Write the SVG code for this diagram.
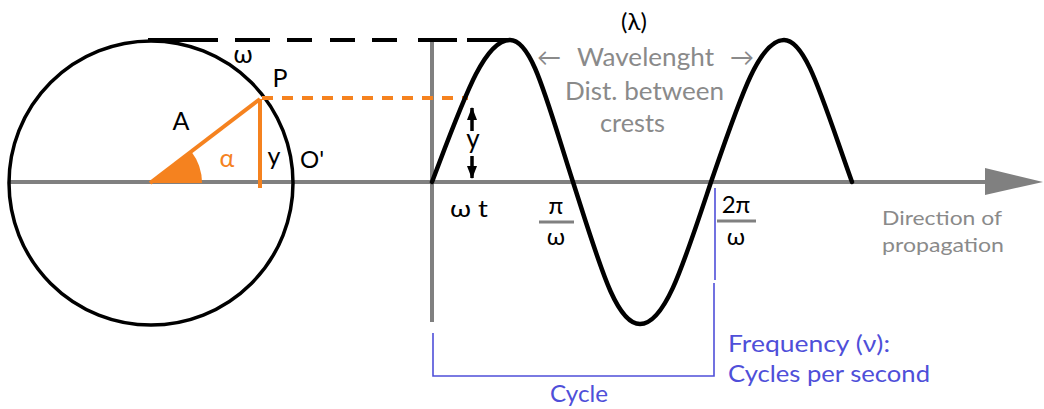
<svg xmlns="http://www.w3.org/2000/svg" width="1044" height="409" viewBox="0 0 1044 409">
<style>
.t{font-family:Lato,"Liberation Sans",sans-serif;}
.blk{fill:#000;}
.gry{fill:#8a8a8a;}
.blu{fill:#4f4fd9;}
.org{fill:#f5821f;}
.ax{stroke:#808080;stroke-width:4;fill:none;}
.bl{stroke:#4f4fd9;stroke-width:1.6;fill:none;}
</style>
<defs>
<marker id="ah" markerWidth="14" markerHeight="10" refX="12" refY="5" orient="auto" markerUnits="userSpaceOnUse">
<path d="M0,0 L13,5 L0,10 Z" fill="#000"/>
</marker>
</defs>
<rect width="1044" height="409" fill="#fff"/>

<g id="axes">
<line class="ax" x1="10" y1="182" x2="988" y2="182"/>
<polygon points="985,168 1043,182 985,195" fill="#808080"/>
<line class="ax" x1="432" y1="40" x2="432" y2="322"/>
</g>

<g id="circle">
<circle cx="151" cy="183" r="142" fill="none" stroke="#000" stroke-width="3.5"/>
</g>

<g id="phasor">
<path d="M150,183 L202,183 A52,52 0 0,0 191.3,151.4 Z" fill="#f5821f"/>
<line x1="150" y1="183" x2="260" y2="99" stroke="#f5821f" stroke-width="4"/>
<line x1="260" y1="99" x2="260" y2="188" stroke="#f5821f" stroke-width="4"/>
</g>

<g id="connectors">
<path d="M148,40 H218 M235,40 H270 M287,40 H312 M330,40 H355 M372,40 H397 M418,40 H457 M467,40 H510" stroke="#000" stroke-width="4" fill="none"/>
<line x1="262" y1="98" x2="468" y2="98" stroke="#f5821f" stroke-width="4" stroke-dasharray="11 9"/>
<line x1="472" y1="131" x2="472" y2="108" stroke="#000" stroke-width="3.5" marker-end="url(#ah)"/>
<line x1="472" y1="156" x2="472" y2="178" stroke="#000" stroke-width="3.5" marker-end="url(#ah)"/>
<line x1="539" y1="222" x2="574" y2="222" stroke="#808080" stroke-width="3"/>
<line x1="717" y1="221" x2="756" y2="221" stroke="#808080" stroke-width="3"/>
<path class="bl" d="M715,188 V280 M714,283 V376 H433 V333"/>
</g>

<g id="wave">
<path d="M432,182 C464,98 484,40 510,40 C532,40 546,98 573,182 C600,266 616,324 640,324 C665,324 683,266 711,182 C740,98 759,40 784,40 C806,40 822,98 852,182" fill="none" stroke="#000" stroke-width="4.5" stroke-linecap="round" stroke-linejoin="round"/>
</g>

<g id="labels-circle">
<text class="t blk" x="243" y="63" font-size="25" text-anchor="middle">ω</text>
<text class="t blk" x="280" y="87" font-size="25" text-anchor="middle">P</text>
<text class="t blk" x="181" y="130" font-size="25" text-anchor="middle">A</text>
<text class="t org" x="227" y="167" font-size="25" text-anchor="middle">α</text>
<text class="t blk" x="274" y="165" font-size="25" text-anchor="middle">y</text>
<text class="t blk" x="312" y="168" font-size="24" text-anchor="middle">O'</text>
</g>

<g id="labels-wave">
<text class="t blk" x="634" y="30" font-size="24" text-anchor="middle">(λ)</text>
<text class="t gry" x="549" y="66" font-size="24" text-anchor="middle">←</text>
<text class="t gry" x="577" y="66" font-size="25" textLength="137" lengthAdjust="spacingAndGlyphs">Wavelenght</text>
<text class="t gry" x="742" y="66" font-size="24" text-anchor="middle">→</text>
<text class="t gry" x="565" y="100" font-size="25" textLength="159" lengthAdjust="spacingAndGlyphs">Dist. between</text>
<text class="t gry" x="600" y="132" font-size="25" textLength="65" lengthAdjust="spacingAndGlyphs">crests</text>
<text class="t blk" x="473" y="148" font-size="26" text-anchor="middle">y</text>
<text class="t blk" x="450" y="217" font-size="23" textLength="38" lengthAdjust="spacingAndGlyphs">ω t</text>
<text class="t blk" x="556" y="214" font-size="24" text-anchor="middle">π</text>
<text class="t blk" x="556" y="245" font-size="24" text-anchor="middle">ω</text>
<text class="t blk" x="736" y="213" font-size="24" text-anchor="middle">2π</text>
<text class="t blk" x="736" y="245" font-size="24" text-anchor="middle">ω</text>
<text class="t gry" x="882" y="225" font-size="20" textLength="120" lengthAdjust="spacingAndGlyphs">Direction of</text>
<text class="t gry" x="882" y="252" font-size="20" textLength="122" lengthAdjust="spacingAndGlyphs">propagation</text>
</g>

<g id="labels-cycle">
<text class="t blu" x="550" y="402" font-size="24" textLength="58" lengthAdjust="spacingAndGlyphs">Cycle</text>
<text class="t blu" x="728" y="352" font-size="24" textLength="162" lengthAdjust="spacingAndGlyphs">Frequency (ν):</text>
<text class="t blu" x="728" y="382" font-size="24" textLength="202" lengthAdjust="spacingAndGlyphs">Cycles per second</text>
</g>
</svg>
